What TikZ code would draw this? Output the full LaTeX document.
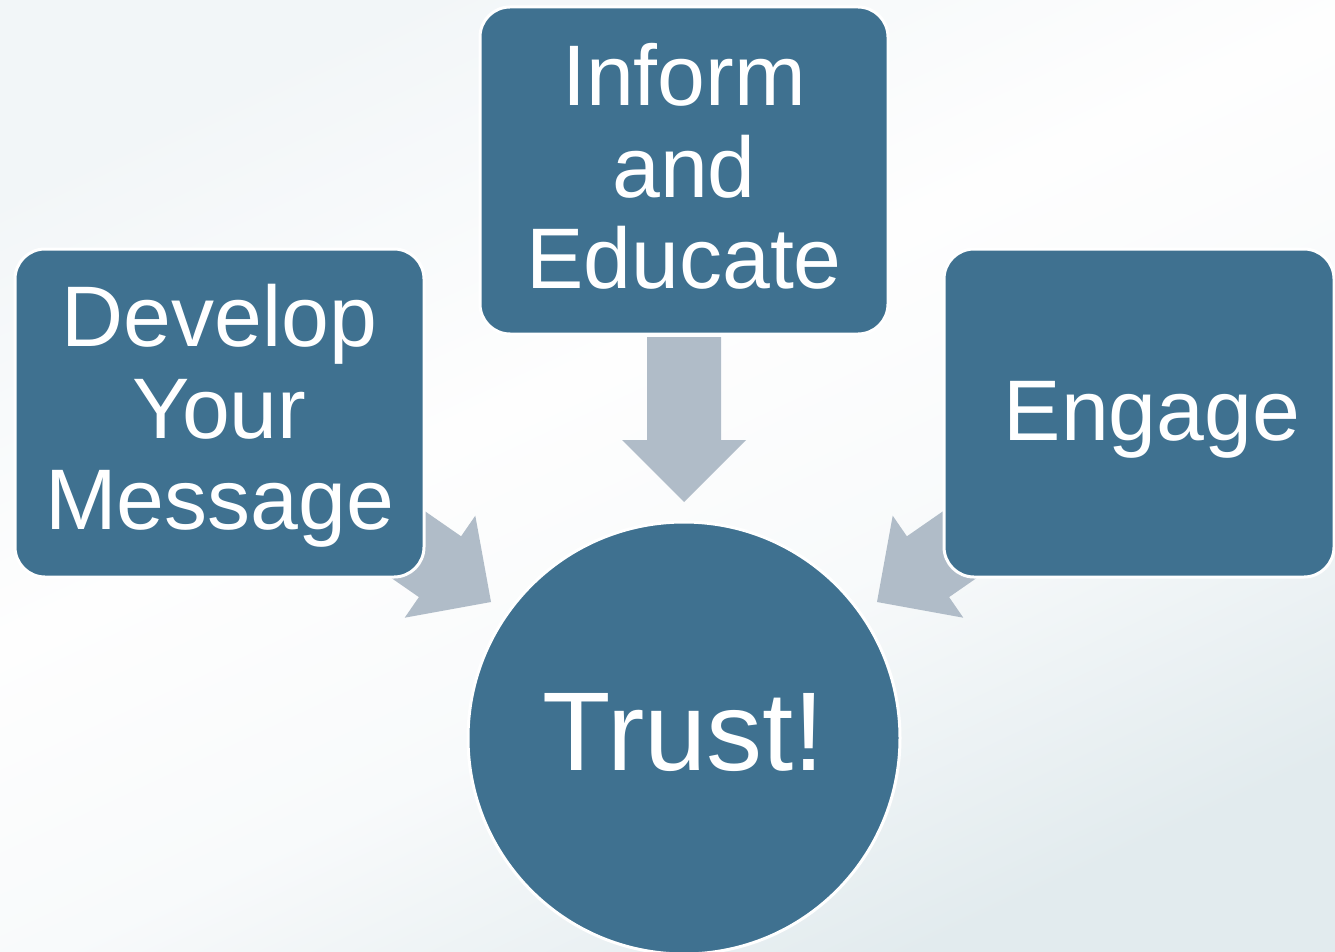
\documentclass[tikz,border=0pt]{standalone}
\usepackage{fontspec}
\setmainfont{Liberation Sans}
\definecolor{boxblue}{RGB}{63,113,144}
\definecolor{arrowgray}{RGB}{176,188,200}
\definecolor{bgA}{RGB}{242,246,248}
\definecolor{bgM}{RGB}{248,250,251}
\definecolor{bgB}{RGB}{254,254,254}
\definecolor{bgC}{RGB}{226,235,238}
\pgfdeclareverticalshading{bgshade}{100bp}{
  color(0bp)=(bgC); color(25bp)=(bgC); color(42bp)=(bgM);
  color(56bp)=(bgB); color(75bp)=(bgA); color(100bp)=(bgA)}
\tikzset{
  box/.style={draw=white, line width=3pt, fill=boxblue, rounded corners=30pt,
    text=white, align=center, inner sep=0pt,
    font=\fontsize{86}{91.5}\selectfont},
  trustcircle/.style={circle, draw=white, line width=3pt, fill=boxblue,
    text=white, inner sep=0pt, font=\fontsize{112}{114}\selectfont},
  blockarrow/.style={fill=arrowgray, draw=none}
}
\begin{document}
\begin{tikzpicture}[x=1pt,y=-1pt]
  \useasboundingbox (0,0) rectangle (1335,952);
  \clip (0,0) rectangle (1335,952);
  \shade[shading=bgshade, shading angle=25] (0,0) rectangle (1335,952);
  % block arrows
  \draw[blockarrow] (647,337) -- (721,337) -- (721,440) -- (746,440)
    -- (684,502) -- (622,440) -- (647,440) -- cycle;
  \draw[blockarrow] (362.5,467.9) -- (461.1,536.3) -- (475.3,515.7)
    -- (491,602) -- (404.7,617.7) -- (418.9,597.1) -- (320.3,528.7) -- cycle;
  \draw[blockarrow] (1005.5,467.9) -- (906.9,536.3) -- (892.7,515.7)
    -- (877,602) -- (963.3,617.7) -- (949.1,597.1) -- (1047.7,528.7) -- cycle;
  % boxes
  \node[box, minimum width=409pt, minimum height=328pt, text depth=12pt]
    (develop) at (219.5,413) {Develop\\Your\\Message};
  \node[box, minimum width=408pt, minimum height=327pt, text depth=9pt]
    (inform) at (684,170.5) {Inform\\and\\Educate};
  \node[box, minimum width=390pt, minimum height=328pt, text depth=4pt]
    (engage) at (1139,413) {\hspace*{26pt}Engage};
  \node[trustcircle, minimum size=432pt, text depth=12pt] (trust) at (684,738) {Trust!};
\end{tikzpicture}
\end{document}
